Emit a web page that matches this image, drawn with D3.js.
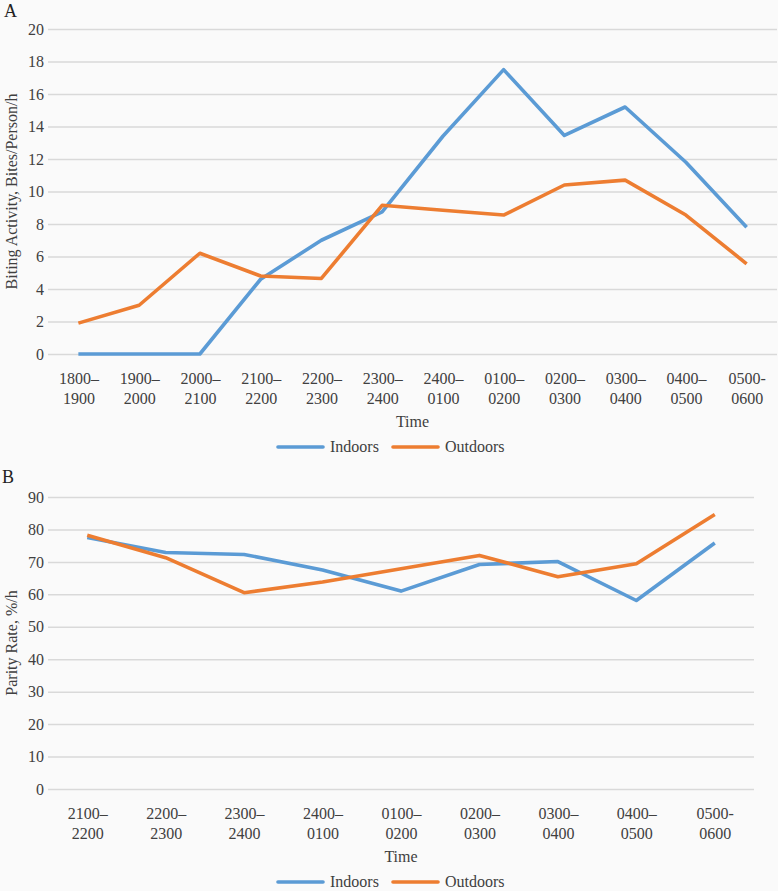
<!DOCTYPE html>
<html lang="en">
<head>
<meta charset="UTF-8">
<title>Biting activity and parity rate</title>
<style>
  body { margin: 0; background: #fafafa; }
  svg { display: block; font-family: "Liberation Serif", "DejaVu Serif", serif; }
  svg text { font-family: "Liberation Serif", "DejaVu Serif", serif; }
  .tick text { fill: #404040; font-size: 16px; }
  .domain { display: none; }
</style>
</head>
<body>
<svg width="778" height="891"></svg>
<script src="https://d3js.org/d3.v7.min.js"></script>
<script>
// Panel A data
const timesA = [["1800–","1900"],["1900–","2000"],["2000–","2100"],["2100–","2200"],["2200–","2300"],["2300–","2400"],
                ["2400–","0100"],["0100–","0200"],["0200–","0300"],["0300–","0400"],["0400–","0500"],["0500-","0600"]];
const indoorsA  = [0, 0, 0, 4.6, 7.0, 8.75, 13.4, 17.5, 13.45, 15.2, 11.8, 7.8];
const outdoorsA = [1.9, 3.0, 6.2, 4.8, 4.65, 9.15, 8.85, 8.55, 10.4, 10.7, 8.55, 5.55];
const ticksA = [0, 2, 4, 6, 8, 10, 12, 14, 16, 18, 20];

// Panel B data
const timesB = [["2100–","2200"],["2200–","2300"],["2300–","2400"],["2400–","0100"],["0100–","0200"],
                ["0200–","0300"],["0300–","0400"],["0400–","0500"],["0500-","0600"]];
const indoorsB  = [77.5, 72.9, 72.3, 67.5, 61.0, 69.2, 70.1, 58.1, 75.8];
const outdoorsB = [78.2, 71.3, 60.5, 63.8, 67.9, 72.0, 65.4, 69.4, 84.6];
const ticksB = [0, 10, 20, 30, 40, 50, 60, 70, 80, 90];

const seriesNames = ["Indoors", "Outdoors"];
const colors = ["#5b9bd5", "#ed7d31"];

const svg = d3.select("svg");

function panel(opt) {
  const g = svg.append("g");
  const keys = opt.times.map(d => d.join(""));
  const x = d3.scalePoint().domain(keys).range([opt.left, opt.right]).padding(0.5);
  const y = d3.scaleLinear().domain([0, opt.ticks[opt.ticks.length - 1]]).range([opt.bottom, opt.top]);

  // gridlines + y labels
  const ya = g.append("g")
    .attr("transform", `translate(${opt.left},0)`)
    .call(d3.axisLeft(y).tickValues(opt.ticks).tickSize(-(opt.right - opt.left)).tickPadding(4))
    .attr("font-family", null).attr("font-size", null);
  ya.selectAll(".tick line").attr("stroke", "#d9d9d9").attr("stroke-width", 1.5);

  // x labels (two lines)
  const xa = g.append("g")
    .attr("transform", `translate(0,${opt.bottom})`)
    .call(d3.axisBottom(x).tickSize(0).tickFormat(""))
    .attr("font-family", null).attr("font-size", null);
  xa.selectAll(".tick").each(function(d, i) {
    const t = d3.select(this).append("text").attr("text-anchor", "middle");
    opt.times[i].forEach((s, j) => t.append("tspan").attr("x", 0).attr("y", 30 + j * 20).text(s));
  });

  // lines
  const line = d3.line().x((d, i) => x(keys[i])).y(d => y(d));
  [opt.indoors, opt.outdoors].forEach((vals, k) => {
    g.append("path").datum(vals)
      .attr("fill", "none").attr("stroke", colors[k]).attr("stroke-width", 3.6)
      .attr("stroke-linejoin", "round").attr("d", line);
  });

  // panel letter
  g.append("text").attr("x", opt.letterX).attr("y", opt.letterY)
    .attr("font-size", 18).attr("fill", "#222").text(opt.letter);

  // y title
  g.append("text")
    .attr("transform", `translate(17,${(opt.top + opt.bottom) / 2}) rotate(-90)`)
    .attr("text-anchor", "middle").attr("font-size", 16).attr("fill", "#404040")
    .text(opt.yTitle);

  // x title
  g.append("text").attr("x", (opt.left + opt.right) / 2).attr("y", opt.bottom + 73)
    .attr("text-anchor", "middle").attr("font-size", 16).attr("fill", "#404040").text("Time");

  // legend
  const lg = g.append("g").attr("transform", `translate(0,${opt.bottom + 93})`);
  const legX = [278, 393];
  seriesNames.forEach((n, k) => {
    lg.append("line").attr("x1", legX[k]).attr("x2", legX[k] + 45).attr("y1", 0).attr("y2", 0)
      .attr("stroke", colors[k]).attr("stroke-width", 3.6).attr("stroke-linecap", "round");
    lg.append("text").attr("x", legX[k] + 52).attr("y", 5).attr("font-size", 16)
      .attr("fill", "#404040").text(n);
  });
}

panel({ times: timesA, indoors: indoorsA, outdoors: outdoorsA, ticks: ticksA,
        left: 48, right: 777, top: 29, bottom: 354, letter: "A", letterX: 4, letterY: 17,
        yTitle: "Biting Activity, Bites/Person/h" });

panel({ times: timesB, indoors: indoorsB, outdoors: outdoorsB, ticks: ticksB,
        left: 48, right: 754, top: 497, bottom: 789, letter: "B", letterX: 2, letterY: 483,
        yTitle: "Parity Rate, %/h" });
</script>
</body>
</html>
